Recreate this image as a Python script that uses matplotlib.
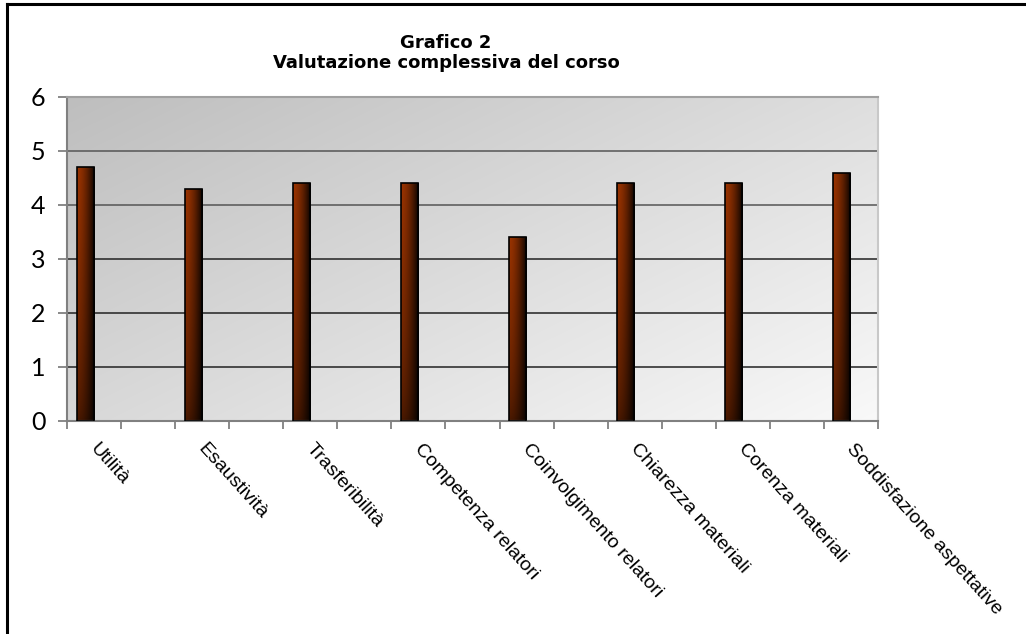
import numpy as np
import matplotlib
matplotlib.use("Agg")
import matplotlib.pyplot as plt
from matplotlib.lines import Line2D
from matplotlib.transforms import ScaledTranslation

# ---- data ----
categories = ["Utilità", "Esaustività", "Trasferibilità", "Competenza relatori",
              "Coinvolgimento relatori", "Chiarezza materiali", "Corenza materiali",
              "Soddisfazione aspettative"]
values = [4.7, 4.3, 4.4, 4.4, 3.4, 4.4, 4.4, 4.6]
y_ticks = [0, 1, 2, 3, 4, 5, 6]
title_lines = ["Grafico 2", "Valutazione complessiva del corso"]

W, H = 1026, 634
fig = plt.figure(figsize=(W / 100, H / 100), dpi=100)
fig.patch.set_facecolor("white")

x0, x1 = 67, 878
y0, y1 = 97, 421
ax = fig.add_axes([x0 / W, 1 - y1 / H, (x1 - x0) / W, (y1 - y0) / H])

n_slots = 2 * len(categories) - 1

# background gradient (diagonal)
nx, ny = 200, 100
gx = np.linspace(0, 1, nx)[None, :]
gy = np.linspace(0, 1, ny)[:, None]  # 0 at top
t = np.clip(0.55 * gx + 0.45 * gy, 0, 1)
c_dark = np.array([0.745, 0.745, 0.745])
c_light = np.array([0.975, 0.975, 0.975])
bg = c_dark[None, None, :] * (1 - t[..., None]) + c_light[None, None, :] * t[..., None]
ax.imshow(bg, extent=(-0.5, n_slots - 0.5, 0, 6), origin="upper", aspect="auto",
          zorder=0, interpolation="bilinear")

# gridlines
for yv in y_ticks[1:-1]:
    ax.axhline(yv, color="#222222" if yv < 4 else "#555555", lw=1.1, zorder=1)

# bars
slot_pos = np.arange(len(categories)) * 2
bar_w = 17 / 54
offset = -9 / 54
base = np.array([0.60, 0.20, 0.0])
hx = np.linspace(0, 1, 40)[None, :]
vy = np.linspace(1, 0, 100)[:, None]  # top=1
fac = (1 - 0.95 * hx ** 1.6) * (0.45 + 0.55 * vy ** 0.6)
bar_img = np.clip(base[None, None, :] * fac[..., None], 0, 1)
for p, v in zip(slot_pos, values):
    xc = p + offset
    rect = ax.bar(xc, v, width=bar_w, color="none", edgecolor="black", lw=1.2, zorder=3)[0]
    im = ax.imshow(bar_img, extent=(xc - bar_w / 2, xc + bar_w / 2, 0, v), origin="upper",
                   aspect="auto", zorder=2, interpolation="bilinear")
    im.set_clip_path(rect)
ax.set_xlim(-0.5, n_slots - 0.5)
ax.set_ylim(0, 6)

# spines
for s in ["left", "bottom"]:
    ax.spines[s].set_color("#808080")
    ax.spines[s].set_linewidth(1.5)
ax.spines["top"].set_color("#a0a0a0")
ax.spines["top"].set_linewidth(1.5)
ax.spines["right"].set_color("#c8c8c8")
ax.spines["right"].set_linewidth(1.5)

# y ticks
ax.set_yticks(y_ticks)
ax.set_yticklabels([str(v) for v in y_ticks], fontsize=18, family="Lato")
ax.tick_params(axis="y", direction="out", length=6.5, width=1.3, color="#808080", pad=9)

# x ticks: boundaries
ax.set_xticks(np.arange(-0.5, n_slots, 1.0))
ax.set_xticklabels([])
ax.tick_params(axis="x", which="major", direction="out", length=6, width=1.3, color="#808080")
ax.set_xticks(slot_pos, minor=True)
ax.set_xticklabels(categories, minor=True, rotation=-48, ha="left", va="top",
                   rotation_mode="anchor", fontsize=14, family="Liberation Sans")
ax.tick_params(axis="x", which="minor", length=0, pad=14)
for lbl in ax.get_xticklabels(minor=True):
    lbl.set_transform(lbl.get_transform() + ScaledTranslation(5 / 100, 0, fig.dpi_scale_trans))

# title
fig.text(446 / W, 1 - 43 / H, title_lines[0], ha="center", va="center",
         fontsize=13, fontweight="bold", family="DejaVu Sans")
fig.text(446 / W, 1 - 63 / H, title_lines[1], ha="center", va="center",
         fontsize=13, fontweight="bold", family="DejaVu Sans")

# outer frame (left and top visible)
fig.add_artist(Line2D([6.5 / W, 6.5 / W], [0, 1 - 4 / H], transform=fig.transFigure, color="black", lw=2.2))
fig.add_artist(Line2D([6.5 / W, 1], [1 - 4 / H, 1 - 4 / H], transform=fig.transFigure, color="black", lw=2.2))

fig.savefig("out.png", dpi=100)
